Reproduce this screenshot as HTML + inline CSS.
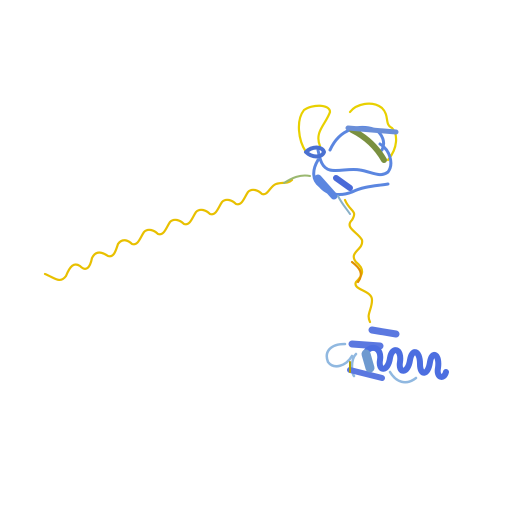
<!DOCTYPE html>
<html><head><meta charset="utf-8"><style>html,body{margin:0;padding:0;background:#fff;width:512px;height:512px;overflow:hidden}</style></head>
<body>
<svg width="512" height="512" viewBox="0 0 512 512" xmlns="http://www.w3.org/2000/svg">
<g fill="none" stroke-linecap="round" stroke-linejoin="round">
<path stroke="#e8c000" stroke-width="2.2" d="M45,274 C55,278 60,284 66,276 C70,266 74,262 80,266 C86,272 90,268 92,258 C96,250 102,252 108,256 C114,258 116,250 118,244 C122,238 128,240 132,244 C138,246 140,238 144,232 C148,228 154,230 158,234 C164,236 166,228 170,222 C174,218 180,220 184,224 C190,226 192,218 196,212 C200,208 206,210 210,214 C216,216 218,208 222,202 C226,198 232,200 236,204 C242,206 244,198 248,192 C252,188 258,190 262,194 C268,196 270,186 276,184 C282,182 288,184 292,180"/>
<path stroke="#9ab870" stroke-width="2" d="M284,183 C292,178 300,174 310,176"/>
<path stroke="#e8d000" stroke-width="2.2" d="M306,152 C298,140 296,120 304,110 C312,104 330,104 330,112 C326,124 314,132 320,146 M350,112 C356,104 372,100 382,108 C390,116 384,124 392,128 C398,134 398,148 388,160"/>
<path stroke="#5b86e0" stroke-width="3" d="M318,150 C320,160 322,168 330,170 C338,172 350,168 360,170 C372,172 380,178 388,172 C394,164 390,150 380,144 M330,150 C340,128 360,124 376,130 C382,134 386,142 382,150 M318,160 C312,170 312,180 320,186 C328,196 342,196 352,192 C364,186 376,186 388,184"/>
<path stroke="#5b86e0" stroke-width="7" d="M318,178 L334,196"/>
<path stroke="#4a6ad8" stroke-width="6" d="M336,178 L350,188"/>
<path stroke="#7a9040" stroke-width="6" d="M352,130 C364,136 376,146 384,160"/>
<path stroke="#6a8ed8" stroke-width="5" d="M348,128 L396,132"/>
<path stroke="#4a70d0" stroke-width="4" d="M306,152 C312,146 322,146 324,152 C322,158 312,158 306,152"/>
<path stroke="#e8c000" stroke-width="2.2" d="M345,200 C350,212 358,210 352,220 C344,228 358,232 362,240 C364,250 348,252 356,262 C366,270 362,276 356,282 C352,290 372,290 372,300 C372,310 366,314 370,322"/>
<path stroke="#88b0c8" stroke-width="2" d="M338,196 C342,204 346,208 350,214"/>
<path stroke="#e09000" stroke-width="2.2" d="M352,262 C360,268 364,274 358,282"/>
<path stroke="#90b8e0" stroke-width="2.5" d="M345,344 C330,344 324,352 328,362 C334,370 346,366 352,356 M356,354 C350,360 352,374 354,376 M390,372 C396,382 406,386 416,378"/>
<path stroke="#5b78e0" stroke-width="7" d="M372,330 L396,334"/>
<path stroke="#5b78e0" stroke-width="7" d="M352,344 L380,346"/>
<path stroke="#5b78e0" stroke-width="6" d="M350,370 L382,378"/>
<path stroke="#4c6ee0" stroke-width="6" d="M366,352 C372,344 382,348 380,360 C378,372 388,372 390,358 C392,346 402,348 400,362 C398,374 408,374 410,360 C412,348 420,350 420,364 C420,376 428,376 430,362 C432,350 440,354 438,368 C436,378 444,380 446,372"/>
<path stroke="#6e9ad0" stroke-width="9" d="M366,354 L370,368"/>
<path stroke="#b0a000" stroke-width="2" d="M350,362 L350,372"/>
</g>
</svg>
</body></html>
